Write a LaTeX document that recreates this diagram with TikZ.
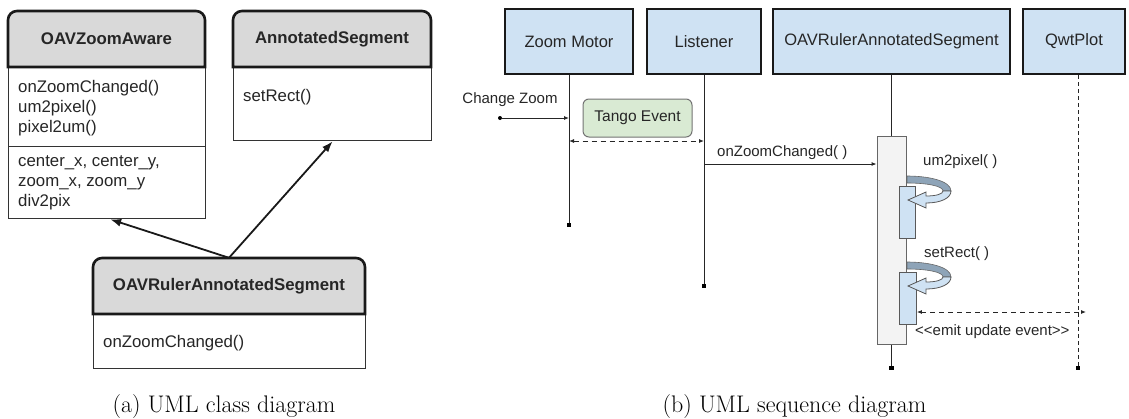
\documentclass[tikz,border=0pt]{standalone}
\usepackage{fontspec}
\newfontfamily\arialf{Liberation Sans}
\usetikzlibrary{arrows.meta}
\definecolor{hdrgray}{HTML}{D9D9D9}
\definecolor{actorblue}{HTML}{CFE2F3}
\definecolor{tangogreen}{HTML}{D9EAD3}
\definecolor{actgray}{HTML}{F3F3F3}
\definecolor{loopdark}{HTML}{8EA4B8}
\begin{document}
\begin{tikzpicture}[x=1pt,y=-1pt,
  thickb/.style={line width=2.6pt, draw=black!90},
  bodybox/.style={draw=black!80, line width=1.3pt, fill=white, inner sep=0pt, anchor=north west},
  lbl/.style={font=\arialf\fontsize{16.8}{20}\selectfont, inner sep=0pt, text=black!85},
  cls/.style={font=\arialf\bfseries\fontsize{16.8}{20}\selectfont, inner sep=0pt, text=black!85},
  msg/.style={font=\arialf\fontsize{15}{18}\selectfont, inner sep=0pt, text=black!85},
  actor/.style={thickb, fill=actorblue, inner sep=0pt, font=\arialf\fontsize{16.5}{20}\selectfont, text=black!85},
  assoc/.style={line width=1.8pt, draw=black!90, -{Latex[length=11pt,width=8pt]}},
  life/.style={line width=0.9pt, draw=black!85},
  dlife/.style={line width=0.9pt, draw=black!85, dash pattern=on 4pt off 3pt},
  mline/.style={line width=0.9pt, draw=black!85, -{Latex[length=5pt,width=4pt]}},
  dmsg/.style={line width=0.9pt, draw=black!85, dash pattern=on 5pt off 4pt, {Latex[length=5pt,width=4pt]}-{Latex[length=5pt,width=4pt]}},
  enddot/.style={fill=black, inner sep=0pt, minimum size=4.5pt, rectangle},
  actbox/.style={draw=black!60, line width=0.9pt, fill=actgray, inner sep=0pt},
  subact/.style={draw=black!65, line width=0.9pt, fill=actorblue, inner sep=0pt, anchor=north west},
  capt/.style={font=\fontsize{24}{28}\selectfont, inner sep=0pt, anchor=base}
]
\useasboundingbox (0,0) rectangle (1129,418);

% ---------- (a) class diagram ----------
% OAVZoomAware
\node[bodybox, minimum width=197pt, minimum height=79pt] (zaM) at (8,67) {};
\node[bodybox, minimum width=197pt, minimum height=72pt] (zaA) at (8,146) {};
\filldraw[thickb, fill=hdrgray] (8,67) [rounded corners=9pt] -- (8,11) -- (205,11) [sharp corners] -- (205,67) -- cycle;
\node[cls, minimum width=197pt, minimum height=56pt] (zaH) at (106.5,39) {OAVZoomAware};
\node[lbl, anchor=west, align=left] (zaMt) at (18,108) {onZoomChanged()\\um2pixel()\\pixel2um()};
\node[lbl, anchor=west, align=left] (zaAt) at (18,183) {center\_x, center\_y,\\zoom\_x, zoom\_y\\div2pix};

% AnnotatedSegment
\node[bodybox, minimum width=198pt, minimum height=73pt] (asB) at (233,67) {};
\filldraw[thickb, fill=hdrgray] (233,67) [rounded corners=9pt] -- (233,11) -- (431,11) [sharp corners] -- (431,67) -- cycle;
\node[cls, minimum width=198pt, minimum height=56pt] (asH) at (332,39) {AnnotatedSegment};
\node[lbl, anchor=west] (asBt) at (243,97) {setRect()};

% OAVRulerAnnotatedSegment
\node[bodybox, minimum width=272pt, minimum height=54pt] (orB) at (93,314) {};
\filldraw[thickb, fill=hdrgray] (93,314) [rounded corners=9pt] -- (93,258) -- (365,258) [sharp corners] -- (365,314) -- cycle;
\node[cls, minimum width=272pt, minimum height=56pt] (orH) at (229,286) {OAVRulerAnnotatedSegment};
\node[lbl, anchor=west] (orBt) at (103,343) {onZoomChanged()};

\draw[assoc] (orH.north) -- ([xshift=3pt]zaA.south);
\draw[assoc] (orH.north) -- (asB.south);

% ---------- (b) sequence diagram ----------
\node[actor, minimum width=128pt, minimum height=65pt] (zm) at (569,41.5) {Zoom Motor};
\node[actor, minimum width=114pt, minimum height=65pt] (lis) at (704,41.5) {Listener};
\node[actor, minimum width=237pt, minimum height=65pt] (rul) at (891.5,41.5) {OAVRulerAnnotatedSegment};
\node[actor, minimum width=102pt, minimum height=65pt] (qwt) at (1074,41.5) {QwtPlot};

% activation of ruler
\node[actbox, minimum width=29pt, minimum height=208pt, anchor=north] (act) at (891.5,136) {};

% lifelines
\node[enddot] (zmDot) at (569,225) {};
\node[enddot] (lisDot) at (704,286) {};
\node[enddot] (rulDot) at (891.5,368) {};
\node[enddot] (qwtDot) at (1078,368) {};
\draw[life] (zm.south) -- (zmDot);
\draw[life] (lis.south) -- (lisDot);
\draw[life] (rul.south) -- (act.north);
\draw[life] (act.south) -- (rulDot);
\draw[dlife] (qwt.south -| qwtDot) -- (qwtDot);

% Change Zoom
\node[enddot, circle, minimum size=4pt] (czDot) at (500,118) {};
\node[msg] (czT) at (510,100) {Change Zoom};
\draw[mline] (czDot) -- (czDot -| zm);

% Tango event
\node[draw=black!55, line width=1pt, fill=tangogreen, rounded corners=6pt, minimum width=109pt, minimum height=38pt, inner sep=0pt, font=\arialf\fontsize{15.5}{18}\selectfont, text=black!85] (tango) at (637.5,118) {Tango Event};
\coordinate (evY) at (0,141);
\draw[dmsg] (zm |- evY) -- (lis |- evY);

% onZoomChanged
\coordinate (ozY) at (0,164);
\node[msg, anchor=west] (ozT) at (717,153) {onZoomChanged( )};
\draw[mline] (lis |- ozY) -- (act.west |- ozY);

% sub activations
\node[subact, minimum width=16pt, minimum height=52pt] (s1) at (899,186) {};
\node[subact, minimum width=17pt, minimum height=52pt] (s2) at (899,272) {};

% self-call curved arrows
\foreach \s in {s1,s2}{
  \begin{scope}[shift={(\s.north west)}]
    \filldraw[fill=loopdark, draw=black!60, line width=0.6pt]
      (8,-10) .. controls (30,-10) and (52,-5) .. (52,5) -- (44,5)
      .. controls (44,0) and (28,-3) .. (8,-3) -- cycle;
    \filldraw[fill=actorblue, draw=black!65, line width=0.8pt]
      (52,5) .. controls (52,12) and (42,17) .. (27,17) -- (27,22) -- (9,14)
      -- (27,6) -- (27,10) .. controls (37,10) and (44,8) .. (44,5) -- cycle;
  \end{scope}
}
\node[msg, anchor=west] (umT) at (923,162) {um2pixel( )};
\node[msg, anchor=west] (srT) at (924,254) {setRect( )};

% emit update event
\coordinate (emEnd) at (1086,312);
\draw[dmsg] (s2.east |- emEnd) -- (emEnd);
\node[msg, anchor=west] (emT) at (915,332) {<\kern0pt<emit update event>\kern0pt>};

% captions
\node[capt] (capA) at (224,412) {(a) UML class diagram};
\node[capt] (capB) at (794.5,412) {(b) UML sequence diagram};
\end{tikzpicture}
\end{document}
